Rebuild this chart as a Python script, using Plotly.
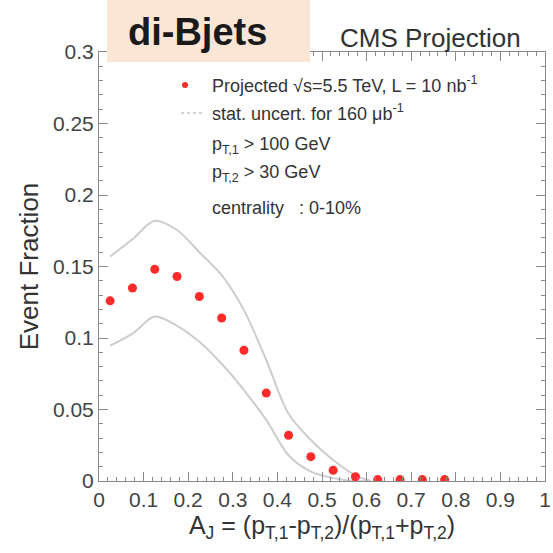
import plotly.graph_objects as go

# Dijet asymmetry bins (bin centres)
aj_bins = [0.025, 0.075, 0.125, 0.175, 0.225, 0.275, 0.325, 0.375, 0.425,
           0.475, 0.525, 0.575, 0.625, 0.675, 0.725, 0.775]
event_fraction = [0.126, 0.135, 0.148, 0.143, 0.129, 0.114, 0.0914, 0.0615,
                  0.032, 0.017, 0.0075, 0.003, 0.001, 0.001, 0.001, 0.001]

# Statistical uncertainty envelope for 160 ub^-1
band_x = [0.025, 0.075, 0.125, 0.175, 0.225, 0.275, 0.325, 0.375, 0.425,
          0.475, 0.525, 0.575, 0.61]
band_upper = [0.157, 0.169, 0.182, 0.1755, 0.160, 0.144, 0.1195, 0.0846,
              0.047, 0.0287, 0.0147, 0.004, 0.0]
band_lower = [0.0946, 0.103, 0.115, 0.1085, 0.0974, 0.082, 0.0636, 0.0427,
              0.018, 0.0065, 0.002, 0.0, 0.0]

x_ticks = [0, 0.1, 0.2, 0.3, 0.4, 0.5, 0.6, 0.7, 0.8, 0.9, 1.0]
x_tick_text = ["0", "0.1", "0.2", "0.3", "0.4", "0.5", "0.6", "0.7", "0.8", "0.9", "1"]
y_ticks = [0, 0.05, 0.1, 0.15, 0.2, 0.25, 0.3]
y_tick_text = ["0", "0.05", "0.1", "0.15", "0.2", "0.25", "0.3"]

W, H = 553, 553
L, R, T, B = 99, 8, 52, 72
PW, PH = W - L - R, H - T - B


def px(xp):
    return (xp - L) / PW


def py(yp):
    return (H - B - yp) / PH


FONT = "Liberation Sans, Arial, sans-serif"
GREY_LINE = "#cdcdcd"

fig = go.Figure()

for yv in (band_upper, band_lower):
    fig.add_trace(go.Scatter(
        x=band_x, y=yv, mode="lines",
        line=dict(color=GREY_LINE, width=2, shape="spline", smoothing=0.9),
        hoverinfo="skip", showlegend=False))

fig.add_trace(go.Scatter(
    x=aj_bins, y=event_fraction, mode="markers",
    marker=dict(color="#ff2a2a", size=9, line=dict(width=0)),
    showlegend=False))

axis_common = dict(
    showgrid=False, zeroline=False, showline=True, linecolor="#8a8a8a",
    linewidth=1, mirror="allticks", ticks="inside", tickcolor="#8a8a8a",
    ticklen=9, tickwidth=1,
    tickfont=dict(family=FONT, size=21, color="#444444"),
)

fig.update_xaxes(
    range=[0, 1], tickvals=x_ticks, ticktext=x_tick_text,
    minor=dict(dtick=0.02, ticks="inside", ticklen=4, tickcolor="#8a8a8a"),
    title=dict(text="A<sub>J</sub> = (p<sub>T,1</sub>-p<sub>T,2</sub>)/(p<sub>T,1</sub>+p<sub>T,2</sub>)",
               font=dict(family=FONT, size=25, color="#333333"), standoff=3),
    **axis_common)
fig.update_yaxes(
    range=[0, 0.3], tickvals=y_ticks, ticktext=y_tick_text,
    minor=dict(dtick=0.01, ticks="inside", ticklen=4, tickcolor="#8a8a8a"),
    title=dict(text="Event Fraction",
               font=dict(family=FONT, size=26, color="#333333"), standoff=6),
    **axis_common)

# Title box
fig.add_shape(type="rect", xref="paper", yref="paper",
              x0=px(107), x1=px(310), y0=py(62), y1=py(-2),
              fillcolor="#fbe6d6", line=dict(width=0), layer="above")
fig.add_annotation(x=px(197), y=py(32), xref="paper", yref="paper",
                   xanchor="center", yanchor="middle",
                   text="<b>di-Bjets</b>", showarrow=False,
                   font=dict(family=FONT, size=38, color="#1a1a1a"))
fig.add_annotation(x=px(430), y=py(38), xref="paper", yref="paper",
                   xanchor="center", yanchor="middle",
                   text="CMS Projection", showarrow=False,
                   font=dict(family=FONT, size=26, color="#333333"))

# Legend block
fig.add_shape(type="circle", xref="paper", yref="paper",
              x0=px(182), x1=px(188), y0=py(88), y1=py(82),
              fillcolor="#ff2a2a", line=dict(width=0), layer="above")
fig.add_shape(type="line", xref="paper", yref="paper",
              x0=px(181), x1=px(204), y0=py(113), y1=py(113),
              line=dict(color="#a8a8a8", width=1, dash="dot"), layer="above")

legend_lines = [
    (85, "Projected \u221As=5.5 TeV, L = 10 nb<sup>-1</sup>"),
    (113, "stat. uncert. for 160 \u03bcb<sup>-1</sup>"),
    (145, "p<sub>T,1</sub> > 100 GeV"),
    (173, "p<sub>T,2</sub> > 30 GeV"),
    (208, "centrality   : 0-10%"),
]
for yp, txt in legend_lines:
    fig.add_annotation(x=px(210), y=py(yp), xref="paper", yref="paper",
                       text=txt, showarrow=False, xanchor="left", yanchor="middle",
                       font=dict(family=FONT, size=18, color="#333333"))

fig.update_layout(
    width=W, height=H,
    margin=dict(l=L, r=R, t=T, b=B, autoexpand=False),
    paper_bgcolor="white", plot_bgcolor="white",
    showlegend=False,
)

fig.write_html("out.html")
